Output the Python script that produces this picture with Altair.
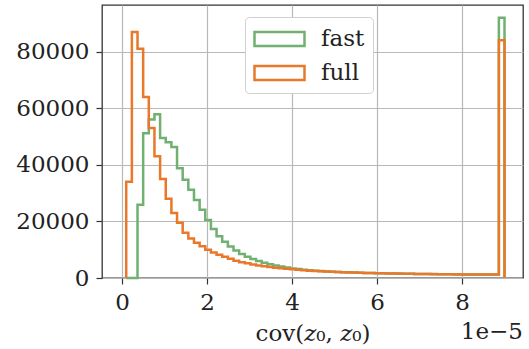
import altair as alt
import numpy as np
import pandas as pd

# histogram bins (x in units of 1e-5)
bin_lo = 0.1
bin_hi = 9.0
n_bins = 67

full_counts = [34000, 87000, 81000, 64000, 53000, 43000, 35000, 28000, 23000, 19500,
               16000, 14000, 12500, 11200, 10000, 9000, 8200, 7500, 6800, 6100,
               5600, 5200, 4800, 4400, 4150, 3900, 3650, 3430, 3230, 3050,
               2900, 2750, 2600, 2500, 2400, 2300, 2200, 2120, 2050, 1980,
               1920, 1860, 1800, 1750, 1700, 1660, 1620, 1580, 1540, 1500,
               1470, 1440, 1410, 1380, 1360, 1340, 1320, 1300, 1280, 1260,
               1250, 1240, 1230, 1220, 1210, 1200, 84000]

fast_counts = [0, 0, 25900, 51200, 56000, 57900, 49500, 48000, 46300, 38800,
               34700, 31200, 27600, 24100, 20500, 17300, 14800, 12800, 11100, 9700,
               8500, 7500, 6700, 6000, 5400, 4900, 4450, 4050, 3700, 3400,
               3150, 2950, 2750, 2600, 2450, 2330, 2220, 2130, 2060, 1990,
               1930, 1870, 1810, 1760, 1710, 1670, 1630, 1590, 1550, 1510,
               1480, 1450, 1420, 1390, 1370, 1350, 1330, 1310, 1290, 1270,
               1260, 1250, 1240, 1230, 1220, 1210, 92000]

series_names = ["fast", "full"]
series_colors = ["#70b070", "#e9782a"]

edges = np.linspace(bin_lo, bin_hi, n_bins + 1)


def step_rows(name, counts):
    rows = [(name, 0, edges[0], 0)]
    k = 1
    for i, c in enumerate(counts):
        rows.append((name, k, edges[i], c))
        k += 1
    rows.append((name, k, edges[-1], counts[-1]))
    rows.append((name, k + 1, edges[-1], 0))
    return rows


rows = step_rows("fast", fast_counts) + step_rows("full", full_counts)
df = pd.DataFrame(rows, columns=["series", "idx", "x", "count"])

FONT = "DejaVu Serif"
FS = 23

lines = alt.Chart(df).mark_line(interpolate="step-after", strokeWidth=2.5).encode(
    x=alt.X("x:Q", scale=alt.Scale(domain=[-0.47, 9.435], nice=False, zero=False),
            axis=alt.Axis(values=[0, 2, 4, 6, 8], format="d", labelPadding=7,
                          title="cov(𝑧₀, 𝑧₀)", titlePadding=8)),
    y=alt.Y("count:Q", scale=alt.Scale(domain=[0, 96500], nice=False),
            axis=alt.Axis(values=[0, 20000, 40000, 60000, 80000], format="d", title=None,
                          labelPadding=7)),
    color=alt.Color("series:N", scale=alt.Scale(domain=series_names, range=series_colors),
                    legend=alt.Legend(title=None, orient="none", legendX=143, legendY=12,
                                      symbolType="M-1,-0.56L3,-0.56L3,0.56L-1,0.56Z",
                                      symbolSize=625, symbolStrokeWidth=2.5,
                                      labelFont=FONT, labelFontSize=FS, labelColor="#222",
                                      labelOffset=40, rowPadding=8, padding=8,
                                      fillColor="white", strokeColor="#d0d0d0",
                                      cornerRadius=4)),
    order="idx:Q",
)

offset_text = alt.Chart(pd.DataFrame({"t": ["1e−5"]})).mark_text(
    align="right", baseline="alphabetic", font=FONT, fontSize=FS, color="#222"
).encode(x=alt.value(421), y=alt.value(334), text="t:N")

chart = alt.layer(lines, offset_text).properties(
    width=421, height=273,
    autosize=alt.AutoSizeParams(type="none"),
    padding={"left": 102, "top": 5, "right": 6, "bottom": 71},
).configure_view(stroke="#333", strokeWidth=1.3).configure_axis(
    grid=True, gridColor="#b8b8b8", gridWidth=1.2,
    domain=False, tickColor="#333", tickSize=6, tickWidth=1.2,
    labelFont=FONT, labelFontSize=FS, labelColor="#222",
    titleFont=FONT, titleFontSize=FS, titleColor="#222", titleFontWeight="normal",
)

chart.save("out.html", embed_options={"renderer": "svg", "actions": False})
